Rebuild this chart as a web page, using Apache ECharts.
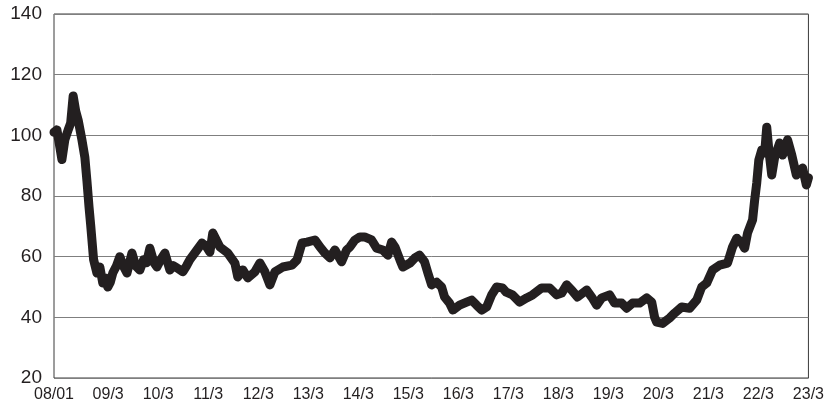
<!DOCTYPE html>
<html>
<head>
<meta charset="utf-8">
<script src="https://cdn.jsdelivr.net/npm/echarts@6/dist/echarts.min.js"></script>
<style>
html,body{margin:0;padding:0;background:#fff;}
#chart{width:827px;height:412px;}
</style>
</head>
<body>
<div id="chart"></div>
<script>
// x = months elapsed since the start of the series (08/01), y = index value
const pricePoints = [
  [0,101],[0.7,101.8],[1.3,97],[1.9,92],[2.6,98.5],[3.4,101.8],[4.0,104],[4.6,113],[5.2,108],[5.8,105],
  [6.7,98.5],[7.4,92.8],[7.9,85],[8.4,76.4],[8.8,70.4],[9.1,65.5],[9.5,59],[10.3,54.6],[11,56.6],[11.7,51.3],
  [12.3,53],[12.9,50],[13.5,51.5],[14.1,54.6],[15,57],[15.8,60],[16.6,57],[17.5,54.6],[18.7,61.2],[19.6,57],
  [20.6,55.6],[21.5,59],[22.2,58],[23,62.8],[24,58],[24.7,56.6],[25.6,59],[26.6,61.2],[27.8,55.6],[28.6,57],
  [29.5,56.3],[30.9,55],[31.8,57],[32.6,59],[34.3,62.2],[35.5,64.5],[36.5,63.5],[37.4,61.5],[38.1,67.8],[39.8,63.2],
  [41.7,61.2],[43.4,57.9],[44.1,53.3],[45.3,55.6],[46.5,53],[48.2,55],[49.4,57.9],[50.6,55],[51.8,50.7],[53,55],
  [54.9,56.6],[57.1,57.2],[58.3,58.9],[59.5,64.5],[60.7,64.8],[62.6,65.5],[63.8,63.2],[65,61.2],[66.2,59.6],[67.4,62.2],
  [69,58.3],[70.2,62.2],[71,63.2],[72.2,65.5],[73.4,66.5],[74.5,66.5],[76.2,65.5],[77.4,62.8],[78.9,62.2],[80.1,60.5],
  [81,64.8],[81.8,63.2],[83,58.9],[83.7,56.6],[85.4,57.9],[86.6,59.6],[87.7,60.5],[88.9,58.3],[89.7,54.6],[90.6,50.7],
  [91.8,51.6],[93,50],[93.7,46.7],[94.9,44.7],[95.7,42.4],[97.3,44],[99,45],[100.2,45.7],[101.4,44],[102.6,42.4],
  [103.8,43.4],[105,47.4],[106.2,50],[107.6,49.7],[108.5,48.3],[110,47.4],[111.7,45],[113.4,46.4],[114.8,47.4],[117,49.7],
  [118.9,49.7],[120.6,47.4],[121.8,48],[123,50.7],[124.2,49],[125.6,46.7],[127.8,49],[129,46.7],[130.2,44],[131.4,46.4],
  [133.3,47.4],[134.5,44.7],[136.2,44.7],[137.4,43],[138.8,44.7],[140.5,44.7],[142.2,46.4],[143.4,45],[144.1,40],[144.6,38.4],
  [146,38],[147.7,39.8],[148.9,41.4],[150.6,43.4],[152.5,43],[154.2,45.7],[155.4,50],[156.6,51.3],[158,55.6],[159.7,57.2],
  [161.6,57.9],[162.8,63.2],[163.8,66.1],[165,64.5],[165.7,62.8],[166.4,67.8],[167.6,72.1],[168.1,78.7],[168.6,84.3],[169.1,91.9],
  [169.8,95.2],[170.5,94.2],[171,102.7],[171.5,95.2],[172.2,86.9],[172.9,92.8],[174.1,97.5],[174.8,93.5],[176,98.5],[177,93.5],
  [178.1,86.9],[179.6,89.2],[180.5,83.6],[181,86]
];
const tickMonths = [0,13,25,37,49,61,73,85,97,109,121,133,145,157,169,181];
const tickLabels = ["08/01","09/3","10/3","11/3","12/3","13/3","14/3","15/3","16/3","17/3","18/3","19/3","20/3","21/3","22/3","23/3"];
const yTicks = [20,40,60,80,100,120,140];

const chart = echarts.init(document.getElementById('chart'));
chart.setOption({
  animation: false,
  backgroundColor: '#ffffff',
  grid: {left: 54, right: 18, top: 14, bottom: 34, show: true, borderColor: '#3a3a3a', borderWidth: 1, backgroundColor: 'transparent'},
  xAxis: {
    type: 'value', min: tickMonths[0], max: tickMonths[tickMonths.length-1],
    axisLine: {show: false}, axisTick: {show: false}, splitLine: {show: false},
    axisLabel: {
      customValues: tickMonths,
      formatter: function (v) { const i = tickMonths.indexOf(v); return i >= 0 ? tickLabels[i] : ''; },
      fontFamily: 'Liberation Sans, Arial, sans-serif', fontSize: 16, color: '#231f20', margin: 9,
      showMinLabel: true, showMaxLabel: true
    }
  },
  yAxis: {
    type: 'value', min: yTicks[0], max: yTicks[yTicks.length-1], interval: 20,
    axisLine: {show: false}, axisTick: {show: false},
    splitLine: {show: true, lineStyle: {color: '#7f7f7f', width: 1}},
    axisLabel: {fontFamily: 'Liberation Sans, Arial, sans-serif', fontSize: 19, color: '#231f20', margin: 12}
  },
  series: [{
    type: 'line', data: pricePoints, showSymbol: false, smooth: false,
    lineStyle: {color: '#231f20', width: 9, cap: 'round', join: 'round'},
    clip: false
  }]
});
</script>
</body>
</html>
